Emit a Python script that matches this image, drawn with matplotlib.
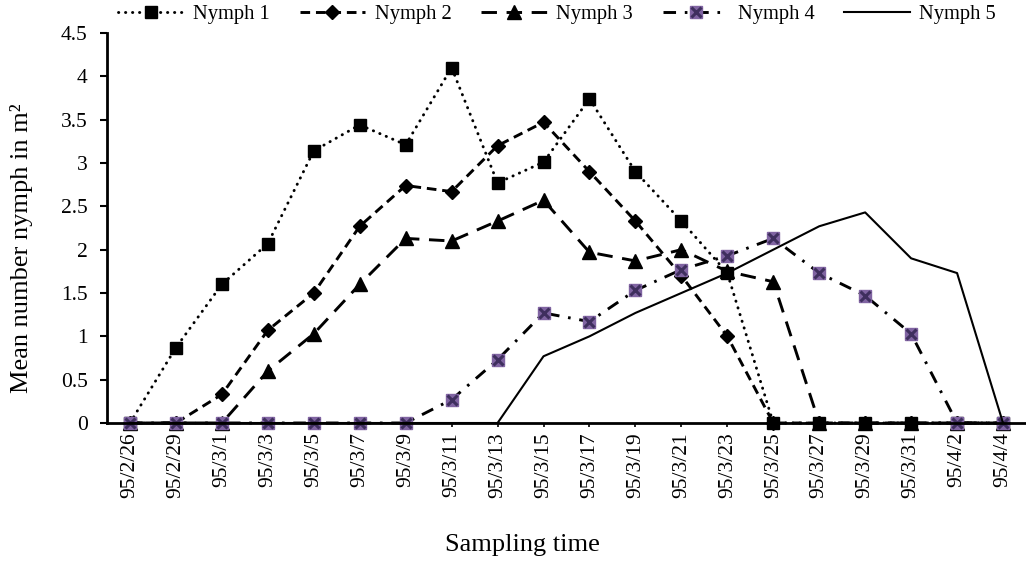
import matplotlib.pyplot as plt
from matplotlib.legend_handler import HandlerTuple

plt.rcParams['font.family'] = ['Liberation Serif', 'DejaVu Serif']

# 采样时间
dates = ['95/2/26', '95/2/29', '95/3/1', '95/3/3', '95/3/5', '95/3/7', '95/3/9',
         '95/3/11', '95/3/13', '95/3/15', '95/3/17', '95/3/19', '95/3/21', '95/3/23',
         '95/3/25', '95/3/27', '95/3/29', '95/3/31', '95/4/2', '95/4/4']

# 各龄若虫平均数量
nymph1 = [0, 0.87, 1.6, 2.07, 3.14, 3.44, 3.21, 4.1, 2.77, 3.01, 3.74, 2.9, 2.33, 1.73,
          0, 0, 0, 0, 0, 0]
nymph2 = [0, 0, 0.33, 1.07, 1.5, 2.27, 2.74, 2.67, 3.2, 3.47, 2.9, 2.33, 1.7, 1.0,
          0, 0, 0, 0, 0, 0]
nymph3 = [0, 0, 0, 0.6, 1.03, 1.6, 2.13, 2.1, 2.33, 2.57, 1.97, 1.87, 2.0, 1.75,
          1.63, 0, 0, 0, 0, 0]
nymph4 = [0, 0, 0, 0, 0, 0, 0, 0.27, 0.73, 1.27, 1.17, 1.53, 1.77, 1.93,
          2.13, 1.73, 1.47, 1.03, 0, 0]
nymph5 = [0, 0, 0, 0, 0, 0, 0, 0, 0, 0.77, 1.0, 1.27, 1.5, 1.73,
          2.0, 2.27, 2.43, 1.9, 1.73, 0]

x = list(range(len(dates)))

fig = plt.figure(figsize=(10.26, 5.65), dpi=100)
ax = fig.add_axes([107 / 1026, 142 / 565, 919 / 1026, 390 / 565])

lw = 2.1
l1, = ax.plot(x, nymph1, color='black', lw=lw, linestyle=(0, (0.1, 2.3)),
              dash_capstyle='round', marker='s', markersize=8.5, label='Nymph 1')
l2, = ax.plot(x, nymph2, color='black', lw=lw, linestyle=(0, (3.3, 2.0)),
              marker='D', markersize=7.5, label='Nymph 2')
l3, = ax.plot(x, nymph3, color='black', lw=lw, linestyle=(0, (5.3, 3.3)),
              marker='^', markersize=10.5, label='Nymph 3')
l4, = ax.plot(x, nymph4, color='black', lw=lw, linestyle=(0, (4.3, 3.0, 0.9, 3.0)),
              marker='s', markersize=8.5, markerfacecolor='#8064A2',
              markeredgecolor='#8064A2', label='Nymph 4')
l4x, = ax.plot(x, nymph4, linestyle='none', marker='x', markersize=6.5,
               markeredgewidth=2.2, color='#3F2F5E')
l5, = ax.plot(x, nymph5, color='black', lw=1.5, linestyle='-', label='Nymph 5')

ax.set_xlim(-0.5, len(dates) - 0.5)
ax.set_ylim(0, 4.5)
ax.set_yticks([i * 0.5 for i in range(10)])
ax.set_yticklabels(['0', '0.5', '1', '1.5', '2', '2.5', '3', '3.5', '4', '4.5'])
ax.set_xticks(x)
ax.set_xticklabels(dates, rotation=90)
ax.tick_params(axis='y', labelsize=15.5, length=5, width=1.5, direction='out', pad=9)
ax.tick_params(axis='x', labelsize=15.5, length=3, width=1.2, direction='out', pad=3.5)

for s in ['top', 'right']:
    ax.spines[s].set_visible(False)
for s in ['left', 'bottom']:
    ax.spines[s].set_linewidth(2.0)
for ln in ax.lines:
    ln.set_clip_on(False)

fig.text(522 / 1026, 1 - 545 / 565, 'Sampling time', fontsize=19, ha='center', va='center')
fig.text(22 / 1026, 1 - 248 / 565, 'Mean number nymph in m²', fontsize=19,
         rotation=90, ha='center', va='center')

ax.legend([l1, l2, l3, (l4, l4x), l5], ['Nymph 1', 'Nymph 2', 'Nymph 3', 'Nymph 4', 'Nymph 5'],
          handler_map={tuple: HandlerTuple(ndivide=1)},
          loc='center left', bbox_to_anchor=(11 / 919, 1 + 19 / 390, 878 / 919, 0.0),
          mode='expand', ncol=5, frameon=False, fontsize=14.8, handlelength=3.2,
          handletextpad=0.45, borderaxespad=0.0, borderpad=0.0)

fig.savefig('out.png', dpi=100)
